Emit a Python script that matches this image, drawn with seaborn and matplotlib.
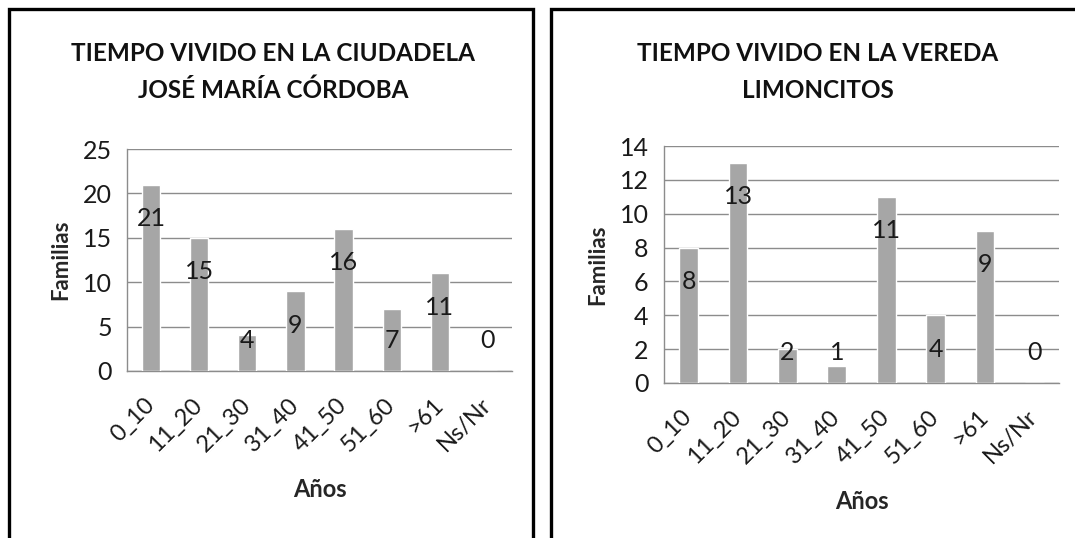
import numpy as np
import pandas as pd
import seaborn as sns
import matplotlib.pyplot as plt
from matplotlib.patches import Rectangle

sns.set_style("white")
plt.rcParams['font.family'] = ['Lato', 'DejaVu Sans']

# categories and counts
categorias = ['0_10', '11_20', '21_30', '31_40', '41_50', '51_60', '>61', 'Ns/Nr']
familias_ciudadela = [21, 15, 4, 9, 16, 7, 11, 0]
familias_vereda = [8, 13, 2, 1, 11, 4, 9, 0]

titulo_ciudadela = 'TIEMPO VIVIDO EN LA CIUDADELA\nJOSÉ MARÍA CÓRDOBA'
titulo_vereda = 'TIEMPO VIVIDO EN LA VEREDA\nLIMONCITOS'

W, H = 1075, 538
fig = plt.figure(figsize=(W / 100, H / 100), dpi=100)
fig.patch.set_facecolor('white')


def px_rect(x0, y0, x1, y1):
    # pixel box (top-left origin) -> figure fraction rect
    return [x0 / W, 1 - y1 / H, (x1 - x0) / W, (y1 - y0) / H]


def draw_panel(rect, valores, ymax, ystep, titulo, title_x, panel_box):
    # black frame around each chart
    fx0, fy0, fx1, fy1 = panel_box
    fig.patches.append(Rectangle((fx0 / W, 1 - fy1 / H), (fx1 - fx0) / W, (fy1 - fy0) / H,
                                 transform=fig.transFigure, fill=False,
                                 edgecolor='black', linewidth=2.4, zorder=0))

    ax = fig.add_axes(rect)
    df = pd.DataFrame({'Años': categorias, 'Familias': valores})
    sns.barplot(data=df, x='Años', y='Familias', color='#A6A6A6',
                width=0.38, saturation=1, ax=ax, zorder=3)

    ax.set_ylim(0, ymax)
    ax.set_xlim(-0.5, len(categorias) - 0.5)
    ax.set_yticks(np.arange(0, ymax + 1, ystep))
    ax.yaxis.grid(True, color='#8C8C8C', linewidth=1.0, zorder=0)
    ax.set_axisbelow(True)

    for s in ['top', 'right']:
        ax.spines[s].set_visible(False)
    for s in ['left', 'bottom']:
        ax.spines[s].set_color('#8C8C8C')
        ax.spines[s].set_linewidth(1.0)

    ax.tick_params(axis='y', length=6, color='#8C8C8C', pad=5, labelsize=18,
                   labelcolor='#1a1a1a')
    ax.tick_params(axis='x', length=0, pad=22, labelsize=17, labelcolor='#1a1a1a')
    plt.setp(ax.get_xticklabels(), rotation=45, ha='right', va='center',
             rotation_mode='anchor')

    ax.set_ylabel('Familias', fontsize=16, fontweight='bold', labelpad=8)
    ax.set_xlabel('Años', fontsize=17, fontweight='bold', labelpad=16)

    # data labels, sitting inside the bar a bit below its top
    ax_h = rect[3] * H
    per_px = ymax / ax_h
    for i, v in enumerate(valores):
        y = max(v - 34 * per_px, 30 * per_px)
        ax.text(i, y, str(v), ha='center', va='center', fontsize=18,
                color='#1a1a1a', zorder=5)

    fig.text(title_x / W, 1 - 72 / H, titulo, ha='center', va='center',
             fontsize=17.5, fontweight='bold', linespacing=1.7, color='#111111')
    return ax


draw_panel(px_rect(127, 149, 512, 371), familias_ciudadela, 25, 5,
           titulo_ciudadela, 273, (9, 9, 533, 545))
draw_panel(px_rect(664, 146, 1059, 383), familias_vereda, 14, 2,
           titulo_vereda, 818, (551, 9, 1090, 545))

fig.savefig('out.png', dpi=100, facecolor='white')
